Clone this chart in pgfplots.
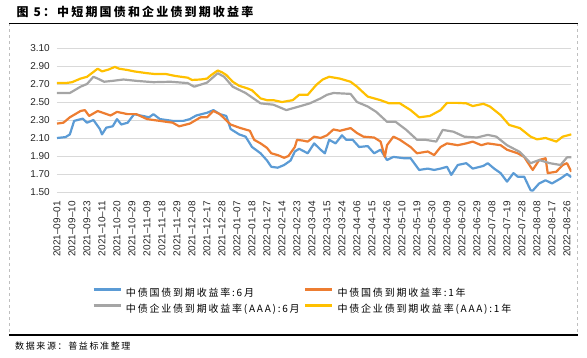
\documentclass[border=0pt]{standalone}
\usepackage{pgfplots}
\pgfplotsset{compat=1.18}
\usepackage{fontspec}
\setmainfont{Liberation Sans}
\newfontfamily\cjk[LetterSpace=18]{Noto Sans CJK SC}
\definecolor{cblue}{HTML}{5B9BD5}
\definecolor{corange}{HTML}{ED7D31}
\definecolor{cgray}{HTML}{A5A5A5}
\definecolor{cyellow}{HTML}{FFC000}
\begin{document}
\begin{tikzpicture}[x=1pt,y=1pt]
\path[use as bounding box] (0,0) rectangle (587,358);
\draw[gray!50, dashed, line width=0.6pt] (9,334.5) -- (9,23);
\draw[gray!50, dashed, line width=0.6pt] (577.5,334.5) -- (577.5,23);
\draw[black, line width=1.3pt] (9,334.5) -- (578,334.5);
\draw[black, line width=1.3pt] (9,23) -- (578,23);
\node[anchor=base west, inner sep=0pt, font=\cjk\bfseries\fontsize{12}{14}\selectfont] at (16.5,341) {图 5：中短期国债和企业债到期收益率};
\node[anchor=base west, inner sep=0pt, font=\cjk\fontsize{9}{11}\selectfont] at (15,8.5) {数据来源：普益标准整理};
\begin{axis}[
  at={(57pt,166pt)}, anchor=south west,
  scale only axis, width=514.3pt, height=144pt,
  xmin=0, xmax=240, ymin=1.5, ymax=3.1,
  axis line style={draw=none},
  ymajorgrids, grid style={color=black!15, line width=0.8pt},
  major tick length=0pt,
  ytick={1.5,1.7,1.9,2.1,2.3,2.5,2.7,2.9,3.1},
  yticklabels={1.50,1.70,1.90,2.10,2.30,2.50,2.70,2.90,3.10},
  xtick={0,7,...,238},
  xticklabels={2021--09--01,2021--09--10,2021--09--23,2021--10--11,2021--10--20,2021--10--29,2021--11--09,2021--11--18,2021--11--29,2021--12--08,2021--12--17,2021--12--28,2022--01--07,2022--01--18,2022--01--27,2022--02--14,2022--02--23,2022--03--04,2022--03--15,2022--03--24,2022--04--06,2022--04--15,2022--04--26,2022--05--10,2022--05--19,2022--05--30,2022--06--09,2022--06--20,2022--06--29,2022--07--08,2022--07--19,2022--07--28,2022--08--08,2022--08--17,2022--08--26},
  tick label style={font=\fontsize{10}{12}\selectfont, inner sep=0pt, text=black!85},
  xticklabel style={rotate=90, anchor=east},
  xticklabel shift=9pt,
  yticklabel shift=7pt,
  legend columns=2,
  legend cell align=left,
  legend style={at={(axis description cs:0.068,-0.668)}, anchor=north west, draw=none, fill=none, inner sep=0pt, font=\cjk\fontsize{10}{12}\selectfont, column sep=4pt, row sep=5.3pt, nodes={inner sep=0pt}},
  legend image code/.code={\draw[#1, line width=2.8pt] (0pt,0.35em) -- (27pt,0.35em);},
  every axis plot/.append style={line width=2.2pt, line join=round},
]
\addplot[cblue] coordinates {(0,2.10)(4,2.11)(6,2.14)(8,2.29)(12,2.315)(14,2.27)(17,2.30)(20,2.20)(21,2.14)(23,2.215)(26,2.23)(28,2.31)(30,2.25)(33,2.27)(36,2.365)(39,2.35)(43,2.33)(45,2.365)(48,2.31)(54,2.29)(59,2.29)(62,2.31)(65,2.35)(70,2.38)(73,2.41)(76,2.365)(79,2.345)(81,2.20)(85,2.14)(88,2.115)(91,2.00)(95,1.93)(98,1.85)(100,1.78)(103,1.77)(106,1.80)(109,1.85)(111,1.95)(113,1.98)(117,1.93)(120,2.04)(123,1.97)(125,1.93)(127,2.08)(130,2.04)(133,2.13)(135,2.08)(138,2.08)(141,2.00)(145,2.01)(148,1.93)(151,1.97)(154,1.855)(157,1.89)(162,1.875)(165,1.875)(169,1.745)(173,1.76)(176,1.745)(179,1.76)(182,1.78)(184,1.69)(187,1.80)(191,1.82)(194,1.76)(199,1.79)(201,1.82)(204,1.76)(207,1.71)(210,1.615)(213,1.71)(215,1.67)(218,1.67)(221,1.52)(222,1.515)(225,1.595)(228,1.63)(231,1.595)(235,1.65)(238,1.70)(240,1.665)};
\addlegendentry{中债国债到期收益率:6月}
\addplot[corange] coordinates {(0,2.26)(3,2.27)(6,2.33)(11,2.40)(13,2.41)(15,2.345)(19,2.40)(22,2.375)(25,2.35)(28,2.39)(33,2.365)(37,2.365)(42,2.31)(48,2.29)(54,2.27)(57,2.23)(62,2.26)(67,2.33)(70,2.33)(73,2.40)(76,2.365)(81,2.25)(85,2.215)(90,2.18)(92,2.08)(95,2.04)(98,1.99)(100,1.93)(103,1.91)(106,1.88)(108,1.90)(111,2.00)(112,2.08)(115,2.07)(117,2.06)(120,2.115)(123,2.10)(126,2.13)(129,2.195)(132,2.18)(137,2.21)(140,2.155)(143,2.115)(148,2.105)(151,2.06)(153,1.89)(154,2.02)(157,2.115)(160,2.08)(165,2.00)(168,1.93)(173,1.95)(176,1.91)(179,2.00)(182,2.04)(187,2.02)(191,2.04)(194,2.06)(198,2.02)(201,2.04)(207,2.02)(210,1.97)(215,1.93)(218,1.89)(221,1.78)(222,1.745)(225,1.855)(228,1.875)(229,1.71)(233,1.725)(236,1.80)(238,1.82)(240,1.725)};
\addlegendentry{中债国债到期收益率:1年}
\addplot[cgray] coordinates {(0,2.60)(6,2.60)(11,2.67)(14,2.70)(17,2.78)(19,2.76)(22,2.725)(26,2.735)(31,2.75)(37,2.735)(45,2.72)(53,2.725)(61,2.71)(64,2.67)(70,2.715)(75,2.82)(78,2.78)(82,2.67)(88,2.60)(95,2.485)(101,2.47)(107,2.41)(113,2.45)(118,2.485)(123,2.54)(126,2.58)(129,2.60)(137,2.59)(140,2.50)(145,2.45)(149,2.39)(154,2.28)(158,2.28)(163,2.19)(168,2.08)(172,2.08)(177,2.06)(180,2.19)(185,2.17)(190,2.115)(196,2.105)(201,2.135)(205,2.115)(210,2.02)(216,1.945)(221,1.82)(225,1.855)(230,1.82)(235,1.80)(238,1.885)(240,1.885)};
\addlegendentry{中债企业债到期收益率(AAA):6月}
\addplot[cyellow] coordinates {(0,2.71)(4,2.71)(7,2.72)(11,2.76)(14,2.78)(19,2.87)(21,2.84)(24,2.86)(27,2.89)(29,2.87)(33,2.855)(36,2.84)(42,2.82)(46,2.81)(51,2.81)(55,2.79)(61,2.77)(63,2.745)(67,2.75)(70,2.76)(72,2.80)(75,2.85)(77,2.83)(79,2.80)(82,2.725)(85,2.68)(89,2.65)(91,2.63)(95,2.54)(98,2.52)(101,2.52)(105,2.50)(110,2.52)(113,2.58)(117,2.58)(121,2.69)(124,2.75)(127,2.78)(132,2.76)(137,2.725)(140,2.67)(145,2.56)(151,2.52)(155,2.485)(160,2.485)(165,2.41)(169,2.33)(174,2.345)(179,2.41)(182,2.49)(187,2.49)(191,2.485)(194,2.455)(199,2.48)(202,2.45)(207,2.355)(211,2.245)(216,2.21)(221,2.115)(224,2.085)(228,2.10)(233,2.06)(236,2.115)(240,2.14)};
\addlegendentry{中债企业债到期收益率(AAA):1年}
\end{axis}
\end{tikzpicture}
\end{document}
